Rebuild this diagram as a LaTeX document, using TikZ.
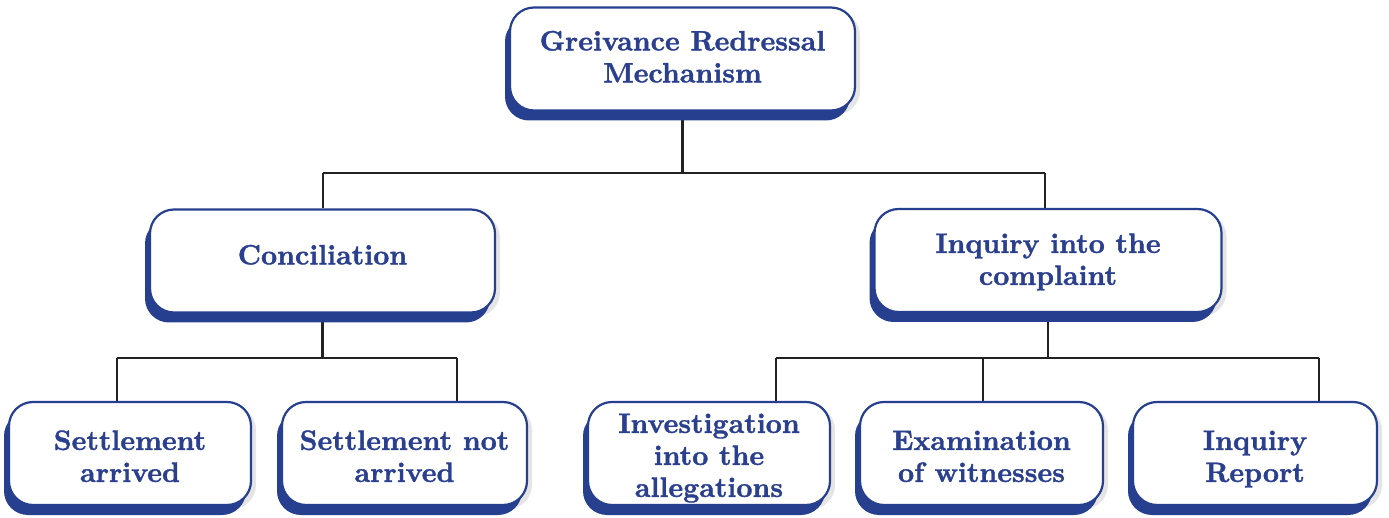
\documentclass[tikz,border=0pt]{standalone}
\usepackage{fontspec}
\usetikzlibrary{shadows,backgrounds}
% heavy face for box labels
\newfontfamily\boxfont{lmroman10-bold.otf}[FakeBold=1.3]
\definecolor{boxblue}{HTML}{263F8F}
\definecolor{textblue}{HTML}{2A3F8E}
\definecolor{linegray}{HTML}{222222}
% centred label lines, nudged vertically by #1 without changing the box size
\newcommand\boxlines[2]{\raisebox{#1}[\height][\depth]{\begin{tabular}{@{}c@{}}#2\end{tabular}}}
\tikzset{
  orgbox/.style={draw=boxblue, line width=2.2pt, fill=white, rounded corners=24pt,
    minimum width=#1, minimum height=103pt, inner sep=0pt,
    text=textblue, font=\boxfont\fontsize{28}{32}\selectfont,
    general shadow={fill=black, opacity=0.10, shadow xshift=5pt, shadow yshift=-4pt},
    general shadow={fill=boxblue, shadow xshift=-5pt, shadow yshift=-10pt}},
  link/.style={draw=linegray, line width=2.2pt}
}
\begin{document}
\begin{tikzpicture}[x=1pt,y=-1pt]
\useasboundingbox (0,0) rectangle (1389,518);

% hierarchy boxes
\node[orgbox=345pt] (top)  at (682.5,59)   {\boxlines{-1pt}{Greivance Redressal\\Mechanism}};
\node[orgbox=345pt] (conc) at (322.5,261)  {\boxlines{3pt}{Conciliation}};
\node[orgbox=347pt] (inq)  at (1048,260.5) {\boxlines{-2pt}{Inquiry into the\\complaint}};
\node[orgbox=242pt] (sa)   at (130,453.5)  {\boxlines{-6pt}{Settlement\\arrived}};
\node[orgbox=245pt] (sna)  at (404.5,453.5) {\boxlines{-6pt}{Settlement not\\arrived}};
\node[orgbox=242pt] (inv)  at (709,453.5)  {\boxlines{-5pt}{Investigation\\into the\\allegations}};
\node[orgbox=243pt] (exam) at (981.5,453.5) {\boxlines{-6pt}{Examination\\of witnesses}};
\node[orgbox=244pt] (ir)   at (1255,453.5) {\boxlines{-6pt}{Inquiry\\Report}};

% bus lines of the tree
\coordinate (busA1) at (323,173);
\coordinate (busA2) at (1045,173);
\coordinate (busB1) at (117,358);
\coordinate (busB2) at (457,358);
\coordinate (busC1) at (776,358);
\coordinate (busC2) at (983,358);
\coordinate (busC3) at (1319,358);

\begin{pgfonlayer}{background}
  \draw[link] (top.south) -- (top.south |- busA1);
  \draw[link] (busA1) -- (busA2);
  \draw[link] (busA1) -- (busA1 |- conc.north);
  \draw[link] (busA2) -- (busA2 |- inq.north);

  \draw[link] (conc.south) -- (conc.south |- busB1);
  \draw[link] (busB1) -- (busB2);
  \draw[link] (busB1) -- (busB1 |- sa.north);
  \draw[link] (busB2) -- (busB2 |- sna.north);

  \draw[link] (inq.south) -- (inq.south |- busC1);
  \draw[link] (busC1) -- (busC3);
  \draw[link] (busC1) -- (busC1 |- inv.north);
  \draw[link] (busC2) -- (busC2 |- exam.north);
  \draw[link] (busC3) -- (busC3 |- ir.north);
\end{pgfonlayer}
\end{tikzpicture}
\end{document}
